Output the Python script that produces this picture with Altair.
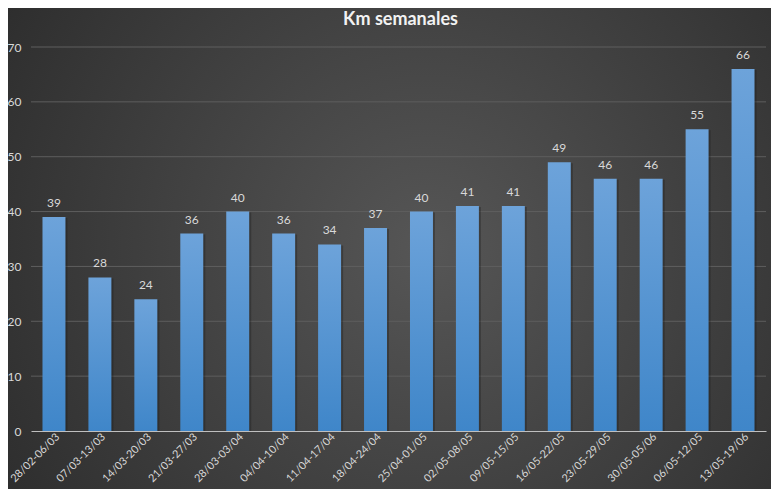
import altair as alt
import pandas as pd

weeks = ["28/02-06/03", "07/03-13/03", "14/03-20/03", "21/03-27/03", "28/03-03/04",
         "04/04-10/04", "11/04-17/04", "18/04-24/04", "25/04-01/05", "02/05-08/05",
         "09/05-15/05", "16/05-22/05", "23/05-29/05", "30/05-05/06", "06/05-12/05",
         "13/05-19/06"]
km = [39, 28, 24, 36, 40, 36, 34, 37, 40, 41, 41, 49, 46, 46, 55, 66]
grid_values = [10, 20, 30, 40, 50, 60, 70]

df = pd.DataFrame({"semana": weeks, "km": km})
gdf = pd.DataFrame({"g": grid_values})

W, H = 735, 384
FONT = "Lato"

yscale = alt.Scale(domain=[0, 70], nice=False)
xscale = alt.Scale(paddingInner=0.5, paddingOuter=0.25)
xaxis = alt.Axis(labelAngle=-45, labelAlign="right", labelBaseline="middle",
                 labelColor="#d9d9d9", labelFont=FONT, labelFontSize=10.8,
                 labelPadding=4, labelOffset=4, ticks=False, domainColor="#bfbfbf",
                 domainWidth=1, grid=False, zindex=1, title=None)
yaxis = alt.Axis(values=list(range(0, 71, 10)), labelColor="#d9d9d9",
                 labelFont=FONT, labelFontSize=12, ticks=False, domain=False,
                 grid=False, labelPadding=10, zindex=1, title=None)

xenc = alt.X("semana:N", sort=None, scale=xscale, axis=xaxis)
yenc = alt.Y("km:Q", scale=yscale, axis=yaxis)

bg = alt.Chart(alt.Data(values=[{"a": 1}])).mark_rect(
    fill={"gradient": "radial", "x1": 0.55, "y1": 0.5, "r1": 0,
          "x2": 0.55, "y2": 0.5, "r2": 0.75,
          "stops": [{"offset": 0, "color": "#565656"},
                    {"offset": 1, "color": "#272727"}]}
).encode(x=alt.value(-23), x2=alt.value(W + 5), y=alt.value(-39), y2=alt.value(H + 58))

grid = alt.Chart(gdf).mark_rule(color="#5e5e5e", strokeWidth=1).encode(
    y=alt.Y("g:Q", scale=yscale, axis=yaxis), x=alt.value(0), x2=alt.value(W))

shadow = alt.Chart(df).mark_bar(color="#1a1a1a", opacity=0.35, xOffset=2, yOffset=1).encode(
    x=xenc, y=yenc)

bars = alt.Chart(df).mark_bar(
    fill={"gradient": "linear", "x1": 0, "y1": 0, "x2": 0, "y2": 1,
          "stops": [{"offset": 0, "color": "#6da3da"},
                    {"offset": 1, "color": "#3f86c9"}]}
).encode(x=xenc, y=yenc)

labels = alt.Chart(df).mark_text(
    baseline="bottom", dy=-7, color="#d9d9d9", font=FONT, fontSize=12
).encode(x=xenc, y=yenc, text="km:Q")

title = alt.Chart(alt.Data(values=[{"t": "Km semanales"}])).mark_text(
    font=FONT, fontSize=18, fontWeight="bold", color="#f2f2f2", baseline="middle"
).encode(x=alt.value(W / 2 + 2), y=alt.value(-27), text="t:N")

chart = alt.layer(bg, grid, shadow, bars, labels, title).properties(
    width=W, height=H,
    autosize=alt.AutoSizeParams(type="none"),
    padding={"left": 23, "top": 39, "right": 5, "bottom": 58},
    background="#333333",
).configure_view(stroke=None)

chart.save("out.html", embed_options={"renderer": "svg", "actions": False})
